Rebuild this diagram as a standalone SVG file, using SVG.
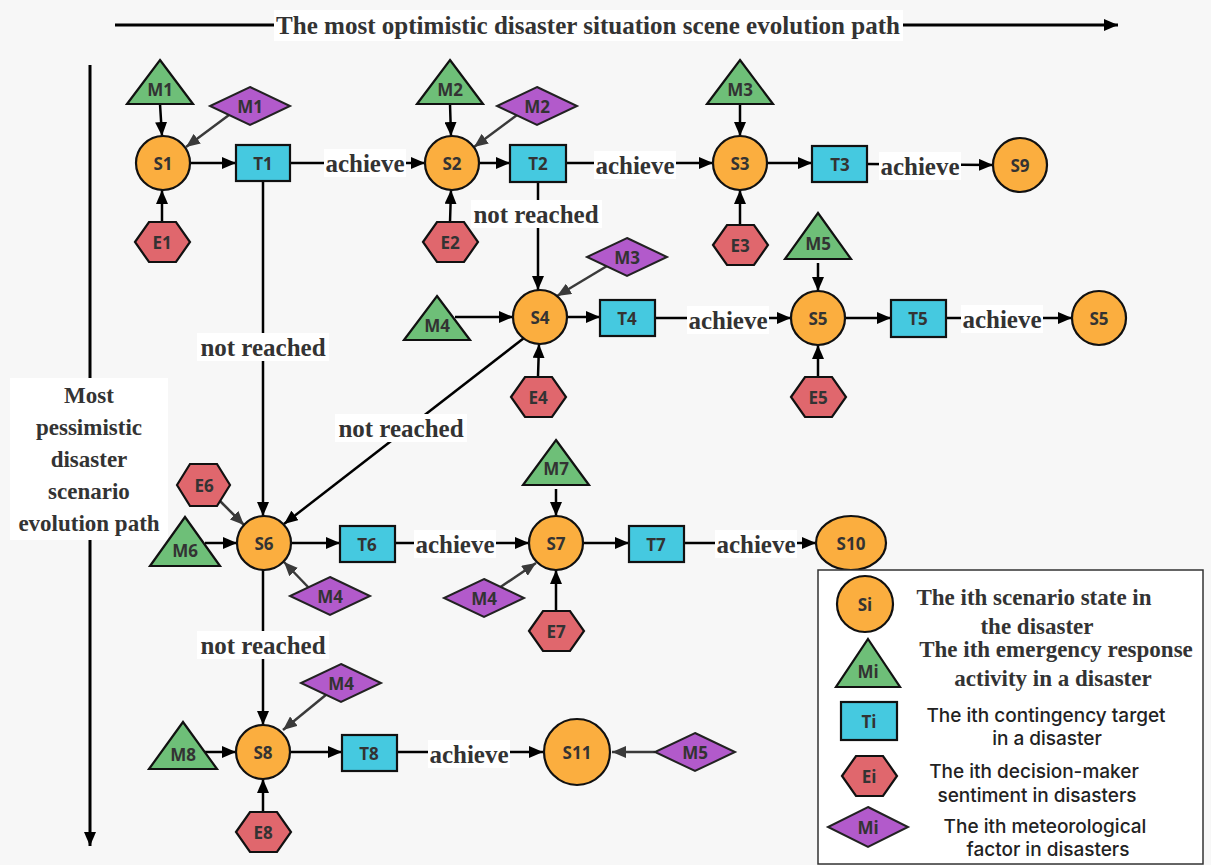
<svg xmlns="http://www.w3.org/2000/svg" width="1211" height="865" viewBox="0 0 1211 865">
<defs>
<marker id="ah" viewBox="0 0 14 12" refX="14" refY="6" markerWidth="14" markerHeight="12" markerUnits="userSpaceOnUse" orient="auto"><path d="M0,0 L14,6 L0,12 z" fill="#000"/></marker>
<marker id="ahg" viewBox="0 0 14 12" refX="14" refY="6" markerWidth="14" markerHeight="12" markerUnits="userSpaceOnUse" orient="auto"><path d="M0,0 L14,6 L0,12 z" fill="#3a3a3a"/></marker>
<style>
.s{fill:#FBAE3F;stroke:#111;stroke-width:2.2}
.t{fill:#45C9E0;stroke:#111;stroke-width:2.2}
.m{fill:#6EBF78;stroke:#111;stroke-width:2.2}
.e{fill:#E0676D;stroke:#111;stroke-width:2.2}
.d{fill:#B25ACB;stroke:#222;stroke-width:2}
.nl{font-family:"Open Sans","Noto Sans",sans-serif;font-weight:700;font-size:17px;fill:#333;text-anchor:middle;dominant-baseline:central}
.c{stroke:#000;stroke-width:2.5;fill:none;marker-end:url(#ah)}
.cg{stroke:#3a3a3a;stroke-width:2.5;fill:none;marker-end:url(#ahg)}
.lb{font-family:"Liberation Serif","Times New Roman",serif;font-weight:700;font-size:25px;fill:#333;text-anchor:middle;dominant-baseline:central}
.bg{fill:#fff}
.lt{font-family:"Liberation Serif","Times New Roman",serif;font-weight:700;font-size:23px;fill:#333;text-anchor:middle}
.ls{font-family:"Inter","Open Sans",sans-serif;font-weight:500;font-size:19px;fill:#222;text-anchor:middle}
</style>
</defs>
<rect x="0" y="0" width="1211" height="865" fill="#f7f7f7"/>

<!-- axes -->
<g id="axes">
<line x1="115" y1="25" x2="1118" y2="25" stroke="#000" stroke-width="3" marker-end="url(#ah)"/>
<rect x="274" y="10" width="629" height="31" class="bg"/>
<text x="588" y="34" font-family="'Liberation Serif','Times New Roman',serif" font-weight="700" font-size="25" fill="#333" text-anchor="middle" textLength="624" lengthAdjust="spacingAndGlyphs">The most optimistic disaster situation scene evolution path</text>
<line x1="90" y1="65" x2="90" y2="846" stroke="#000" stroke-width="3" marker-end="url(#ah)"/>
<rect x="10" y="378" width="158" height="162" class="bg"/>
<text class="lt" font-size="24" x="89" y="403">Most</text>
<text class="lt" font-size="24" x="89" y="435">pessimistic</text>
<text class="lt" font-size="24" x="89" y="467">disaster</text>
<text class="lt" font-size="24" x="89" y="499">scenario</text>
<text class="lt" font-size="24" x="89" y="531">evolution path</text>
</g>

<!-- connectors -->
<g id="connectors">
<line class="c" x1="160" y1="104" x2="162" y2="136"/>
<line class="cg" x1="229" y1="115" x2="186" y2="147"/>
<line class="c" x1="162" y1="222" x2="162" y2="190"/>
<line class="c" x1="190" y1="163" x2="236" y2="163"/>
<line class="c" x1="290" y1="163" x2="425" y2="163"/>
<line class="c" x1="263" y1="181" x2="263" y2="516"/>

<line class="c" x1="450" y1="104" x2="451" y2="136"/>
<line class="cg" x1="517" y1="115" x2="474" y2="147"/>
<line class="c" x1="450" y1="222" x2="451" y2="190"/>
<line class="c" x1="479" y1="163" x2="510" y2="163"/>
<line class="c" x1="566" y1="163" x2="713" y2="163"/>
<line class="c" x1="538" y1="182" x2="538" y2="290"/>

<line class="c" x1="740" y1="104" x2="740" y2="136"/>
<line class="c" x1="740" y1="225" x2="740" y2="190"/>
<line class="c" x1="767" y1="163" x2="812" y2="163"/>
<line class="c" x1="867" y1="164" x2="993" y2="165"/>

<line class="cg" x1="607" y1="266" x2="557" y2="296"/>
<line class="c" x1="455" y1="317" x2="513" y2="317"/>
<line class="c" x1="538" y1="377" x2="539" y2="344"/>
<line class="c" x1="567" y1="317" x2="600" y2="317"/>
<line class="c" x1="655" y1="318" x2="791" y2="318"/>
<line class="c" x1="524" y1="338" x2="284" y2="524"/>

<line class="c" x1="818" y1="263" x2="818" y2="291"/>
<line class="c" x1="818" y1="377" x2="818" y2="345"/>
<line class="c" x1="845" y1="318" x2="891" y2="318"/>
<line class="c" x1="946" y1="318" x2="1072" y2="318"/>

<line class="cg" x1="220" y1="501" x2="244" y2="525"/>
<line class="c" x1="205" y1="543" x2="237" y2="543"/>
<line class="cg" x1="309" y1="588" x2="284" y2="562"/>
<line class="c" x1="291" y1="543" x2="340" y2="543"/>
<line class="c" x1="395" y1="543" x2="529" y2="543"/>
<line class="c" x1="263" y1="570" x2="263" y2="725"/>

<line class="c" x1="556" y1="489" x2="556" y2="516"/>
<line class="cg" x1="499" y1="588" x2="536" y2="563"/>
<line class="c" x1="556" y1="611" x2="556" y2="570"/>
<line class="c" x1="583" y1="543" x2="629" y2="543"/>
<line class="c" x1="684" y1="543" x2="816" y2="543"/>

<line class="cg" x1="327" y1="694" x2="283" y2="730"/>
<line class="c" x1="203" y1="752" x2="236" y2="752"/>
<line class="c" x1="263" y1="812" x2="263" y2="779"/>
<line class="c" x1="290" y1="752" x2="342" y2="752"/>
<line class="c" x1="397" y1="752" x2="543" y2="752"/>
<line class="cg" x1="655" y1="752" x2="612" y2="752"/>

<!-- labels -->
<rect class="bg" x="324" y="149" width="82" height="28"/><text class="lb" x="365" y="163">achieve</text>
<rect class="bg" x="594" y="151" width="82" height="28"/><text class="lb" x="635" y="165">achieve</text>
<rect class="bg" x="879" y="152" width="82" height="28"/><text class="lb" x="920" y="166">achieve</text>
<rect class="bg" x="687" y="306" width="82" height="28"/><text class="lb" x="728" y="320">achieve</text>
<rect class="bg" x="961" y="305" width="82" height="28"/><text class="lb" x="1002" y="319">achieve</text>
<rect class="bg" x="414" y="530" width="82" height="28"/><text class="lb" x="455" y="544">achieve</text>
<rect class="bg" x="715" y="530" width="82" height="28"/><text class="lb" x="756" y="544">achieve</text>
<rect class="bg" x="428" y="740" width="82" height="28"/><text class="lb" x="469" y="754">achieve</text>
<rect class="bg" x="471" y="200" width="131" height="28"/><text class="lb" x="536" y="214">not reached</text>
<rect class="bg" x="197" y="333" width="132" height="28"/><text class="lb" x="263" y="347">not reached</text>
<rect class="bg" x="335" y="414" width="132" height="28"/><text class="lb" x="401" y="428">not reached</text>
<rect class="bg" x="197" y="631" width="132" height="28"/><text class="lb" x="263" y="645">not reached</text>
</g>

<!-- row 1 -->
<g id="S1"><circle class="s" cx="163" cy="163" r="27"/><text class="nl" x="163" y="163">S1</text></g>
<g id="T1"><rect class="t" x="236" y="145" width="54" height="36"/><text class="nl" x="263" y="163">T1</text></g>
<g id="M1a"><polygon class="m" points="160,60 193,104 127,104"/><text class="nl" x="160" y="89">M1</text></g>
<g id="M1b"><polygon class="d" points="250,87 290,106 250,125 210,106"/><text class="nl" x="250" y="106">M1</text></g>
<g id="E1"><polygon class="e" points="135,242 149,222 176,222 190,242 176,262 149,262"/><text class="nl" x="162" y="242">E1</text></g>

<g id="S2"><circle class="s" cx="452" cy="163" r="27"/><text class="nl" x="452" y="163">S2</text></g>
<g id="T2"><rect class="t" x="510" y="145" width="56" height="37"/><text class="nl" x="538" y="163">T2</text></g>
<g id="M2a"><polygon class="m" points="450,60 483,104 417,104"/><text class="nl" x="450" y="89">M2</text></g>
<g id="M2b"><polygon class="d" points="537,87 577,106 537,125 497,106"/><text class="nl" x="537" y="106">M2</text></g>
<g id="E2"><polygon class="e" points="423,242 437,222 464,222 478,242 464,262 437,262"/><text class="nl" x="450" y="242">E2</text></g>

<g id="S3"><circle class="s" cx="740" cy="163" r="27"/><text class="nl" x="740" y="163">S3</text></g>
<g id="T3"><rect class="t" x="812" y="146" width="55" height="36"/><text class="nl" x="840" y="164">T3</text></g>
<g id="M3a"><polygon class="m" points="740,60 773,104 707,104"/><text class="nl" x="740" y="89">M3</text></g>
<g id="E3"><polygon class="e" points="713,245 727,225 754,225 768,245 754,265 727,265"/><text class="nl" x="740" y="245">E3</text></g>
<g id="S9"><circle class="s" cx="1020" cy="165" r="27"/><text class="nl" x="1020" y="165">S9</text></g>

<!-- row 2 -->
<g id="S4"><circle class="s" cx="540" cy="317" r="27"/><text class="nl" x="540" y="317">S4</text></g>
<g id="T4"><rect class="t" x="600" y="300" width="55" height="36"/><text class="nl" x="627" y="318">T4</text></g>
<g id="M4a"><polygon class="m" points="437,296 470,340 404,340"/><text class="nl" x="437" y="325">M4</text></g>
<g id="M3b"><polygon class="d" points="627,238 667,257 627,276 587,257"/><text class="nl" x="627" y="257">M3</text></g>
<g id="E4"><polygon class="e" points="511,397 525,377 552,377 566,397 552,417 525,417"/><text class="nl" x="538" y="397">E4</text></g>

<g id="S5"><circle class="s" cx="818" cy="318" r="27"/><text class="nl" x="818" y="318">S5</text></g>
<g id="T5"><rect class="t" x="891" y="300" width="55" height="37"/><text class="nl" x="918" y="318">T5</text></g>
<g id="M5a"><polygon class="m" points="818,213 851,259 785,259"/><text class="nl" x="818" y="243">M5</text></g>
<g id="E5"><polygon class="e" points="791,397 805,377 832,377 846,397 832,417 805,417"/><text class="nl" x="818" y="397">E5</text></g>
<g id="S5b"><circle class="s" cx="1099" cy="318" r="27"/><text class="nl" x="1099" y="318">S5</text></g>

<!-- row 3 -->
<g id="S6"><circle class="s" cx="264" cy="543" r="27"/><text class="nl" x="264" y="543">S6</text></g>
<g id="T6"><rect class="t" x="340" y="526" width="55" height="36"/><text class="nl" x="367" y="544">T6</text></g>
<g id="M6"><polygon class="m" points="185,517 220,566 150,566"/><text class="nl" x="185" y="550">M6</text></g>
<g id="E6"><polygon class="e" points="177,485 190,464 217,464 230,485 217,506 190,506"/><text class="nl" x="204" y="485">E6</text></g>
<g id="M4b"><polygon class="d" points="330,577 370,596 330,615 290,596"/><text class="nl" x="330" y="596">M4</text></g>

<g id="S7"><circle class="s" cx="556" cy="543" r="27"/><text class="nl" x="556" y="543">S7</text></g>
<g id="T7"><rect class="t" x="629" y="526" width="55" height="36"/><text class="nl" x="656" y="544">T7</text></g>
<g id="M7"><polygon class="m" points="556,440 589,485 523,485"/><text class="nl" x="556" y="468">M7</text></g>
<g id="M4c"><polygon class="d" points="484,579 524,598 484,617 444,598"/><text class="nl" x="484" y="598">M4</text></g>
<g id="E7"><polygon class="e" points="529,631 543,611 570,611 584,631 570,651 543,651"/><text class="nl" x="556" y="631">E7</text></g>
<g id="S10"><ellipse class="s" cx="851" cy="543" rx="35" ry="27"/><text class="nl" x="851" y="543">S10</text></g>

<!-- row 4 -->
<g id="S8"><circle class="s" cx="263" cy="752" r="27"/><text class="nl" x="263" y="752">S8</text></g>
<g id="T8"><rect class="t" x="342" y="735" width="55" height="36"/><text class="nl" x="369" y="753">T8</text></g>
<g id="M8"><polygon class="m" points="183,722 217,769 149,769"/><text class="nl" x="183" y="754">M8</text></g>
<g id="M4d"><polygon class="d" points="341,664 381,683 341,702 301,683"/><text class="nl" x="341" y="683">M4</text></g>
<g id="E8"><polygon class="e" points="236,832 250,812 277,812 291,832 277,852 250,852"/><text class="nl" x="263" y="832">E8</text></g>
<g id="S11"><circle class="s" cx="577" cy="752" r="33"/><text class="nl" x="577" y="752">S11</text></g>
<g id="M5b"><polygon class="d" points="695,733 735,752 695,771 655,752"/><text class="nl" x="695" y="752">M5</text></g>

<!-- legend -->
<g id="legend">
<rect x="818" y="570" width="385" height="294" fill="#fff" stroke="#333" stroke-width="1.5"/>
<circle class="s" cx="865" cy="604" r="28"/><text class="nl" x="865" y="604">Si</text>
<text class="lt" x="1034" y="605">The ith scenario state in</text>
<text class="lt" x="1037" y="634">the disaster</text>
<polygon class="m" points="868,639 900,687 836,687"/><text class="nl" x="868" y="671">Mi</text>
<text class="lt" x="1056" y="657">The ith emergency response</text>
<text class="lt" x="1053" y="686">activity in a disaster</text>
<rect class="t" x="841" y="702" width="56" height="38"/><text class="nl" x="869" y="721">Ti</text>
<text class="ls" x="1046" y="722">The ith contingency target</text>
<text class="ls" x="1047" y="745">in a disaster</text>
<polygon class="e" points="842,776 856,756 883,756 897,776 883,796 856,796"/><text class="nl" x="869" y="776">Ei</text>
<text class="ls" x="1034" y="778">The ith decision-maker</text>
<text class="ls" x="1037" y="802">sentiment in disasters</text>
<polygon class="d" points="868,807 908,827 868,847 828,827"/><text class="nl" x="868" y="827" font-weight="400" fill="#444">Mi</text>
<text class="ls" x="1045" y="833">The ith meteorological</text>
<text class="ls" x="1048" y="856">factor in disasters</text>
</g>
</svg>
